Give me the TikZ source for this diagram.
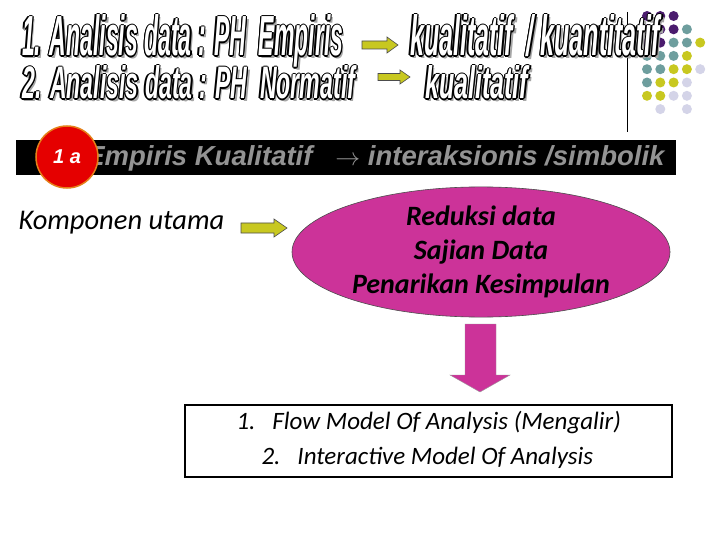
\documentclass[tikz,border=0pt]{standalone}
\usepackage{fontspec}
\usepackage{graphicx}
\setmainfont{Carlito}
\newfontfamily\arialf{Liberation Sans}
\usetikzlibrary{shapes.geometric}
\definecolor{dpurple}{HTML}{4B1C6E}
\definecolor{dteal}{HTML}{6E9E9E}
\definecolor{dyel}{HTML}{C8C820}
\definecolor{dlav}{HTML}{D4D4E8}
\definecolor{mag}{HTML}{CC3399}
\definecolor{arryel}{HTML}{C8C820}
\newcommand{\wa}[3]{\resizebox{#1pt}{#3pt}{\arialf\bfseries\itshape\fontsize{40}{40}\selectfont #2}}
\newcommand{\wordart}[6]{%
  \node[anchor=base west,text=gray!70,inner sep=0pt] at (#2+2.5,#3+2.5) {\wa{#4}{#5}{#6}};
  \foreach \dx/\dy in {-1.3/0,1.3/0,0/-1.3,0/1.3,-0.9/-0.9,0.9/0.9,-0.9/0.9,0.9/-0.9}
    \node[anchor=base west,text=black,inner sep=0pt] at (#2+\dx,#3+\dy) {\wa{#4}{#5}{#6}};
  \node[anchor=base west,text=white,inner sep=0pt] (#1) at (#2,#3) {\wa{#4}{#5}{#6}};}
\newcommand{\harrow}[7]{\draw[draw=black!70,fill=#7,line width=0.6pt]
  (#1,#2-#4) -- (#1+#3-#6,#2-#4) -- (#1+#3-#6,#2-#5) -- (#1+#3,#2) -- (#1+#3-#6,#2+#5) -- (#1+#3-#6,#2+#4) -- (#1,#2+#4) -- cycle;}
\tikzset{dot/.style={circle,inner sep=0pt,minimum size=10pt}}
\begin{document}
\begin{tikzpicture}[x=1pt,y=-1pt]
\useasboundingbox (0,0) rectangle (720,540);
\fill[white] (0,0) rectangle (720,540);
\foreach \c/\r/\col in {0/0/dpurple,1/0/dpurple,2/0/dpurple,
 0/1/dpurple,1/1/dpurple,2/1/dpurple,3/1/dteal,
 0/2/dpurple,1/2/dpurple,2/2/dteal,3/2/dteal,4/2/dyel,
 0/3/dteal,1/3/dteal,2/3/dteal,3/3/dyel,
 0/4/dteal,1/4/dteal,2/4/dyel,3/4/dyel,4/4/dlav,
 0/5/dteal,1/5/dyel,2/5/dyel,3/5/dlav,
 0/6/dyel,1/6/dyel,2/6/dlav,3/6/dlav,
 1/7/dlav,3/7/dlav}
  \node[dot,fill=\col] (d\c\r) at (647+13.3*\c,16+13.3*\r) {};
\draw[line width=0.8pt] (627,12) coordinate (vl1) -- (627,132) coordinate (vl2);
\wordart{t1}{22}{56}{321}{1. Analisis data : PH\ \ Empiris}{41}
\wordart{t2}{410}{56}{250}{kualitatif\ \ / kuantitatif}{41}
\wordart{t3}{22}{99}{333}{2. Analisis data : PH\ \ Normatif}{33}
\wordart{t4}{425}{99}{103}{kualitatif}{33}
\harrow{362}{45}{36}{4}{8}{11}{arryel}
\harrow{378}{77}{32}{3.5}{7}{10}{arryel}
\fill[black] (16,140) rectangle (676,175);
\node[anchor=east,text=gray!85,font=\arialf\bfseries\itshape\fontsize{27.5}{27}\selectfont] (band) at (668,158) {Empiris Kualitatif\ \ \ $\rightarrow$ interaksionis /simbolik};
\node[circle,fill=red!90!black,draw=orange!60!brown,line width=1.5pt,minimum size=62pt,inner sep=0pt,text=white,font=\arialf\bfseries\itshape\fontsize{20}{20}\selectfont] (c1a) at (67,157) {1 a};
\node[anchor=west,font=\itshape\fontsize{28.5}{28}\selectfont] (komp) at (15,223) {Komponen utama};
\node[ellipse,fill=mag,draw=black!70,line width=0.6pt,minimum width=378pt,minimum height=128pt,inner sep=0pt,align=center,font=\bfseries\itshape\fontsize{28}{34}\selectfont] (ell) at (481,252) {Reduksi data\\Sajian Data\\Penarikan Kesimpulan};
\harrow{241}{228}{46}{5}{9}{13}{arryel}
\draw[fill=mag,draw=black!40,line width=0.4pt] (465,324) -- (496,324) -- (496,375) -- (510,375) -- (480,392) -- (450,375) -- (465,375) -- cycle;
\node[draw=black,line width=1.5pt,minimum width=487pt,minimum height=72pt,inner sep=0pt] (box) at (428.5,441) {};
\node[font=\itshape\fontsize{25}{25}\selectfont,anchor=west] (l1) at (233,423) {1.\ \ \ Flow Model Of Analysis (Mengalir)};
\node[font=\itshape\fontsize{25}{25}\selectfont,anchor=west] (l2) at (258,458) {2.\ \ \ Interactive Model Of Analysis};
\end{tikzpicture}
\end{document}
